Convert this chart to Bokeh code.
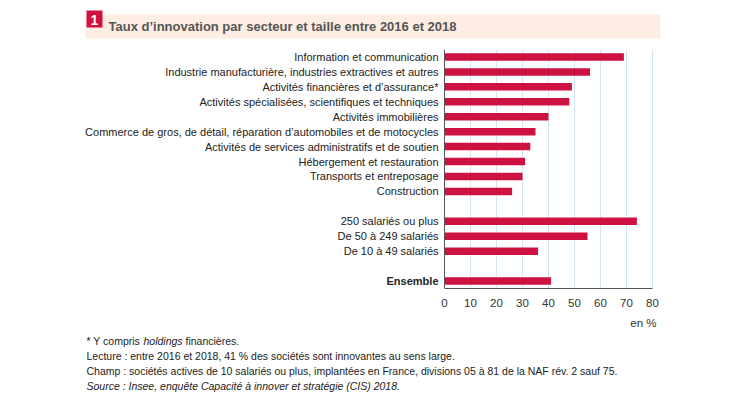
from bokeh.plotting import figure
from bokeh.layouts import column
from bokeh.models import FactorRange, Range1d, FixedTicker, ColumnDataSource, Span
from bokeh.core.properties import value
from bokeh.embed import file_html
from bokeh.resources import INLINE

# ---- data ----
sectors = [
    "Information et communication",
    "Industrie manufacturière, industries extractives et autres",
    "Activités financières et d’assurance*",
    "Activités spécialisées, scientifiques et techniques",
    "Activités immobilières",
    "Commerce de gros, de détail, réparation d’automobiles et de motocycles",
    "Activités de services administratifs et de soutien",
    "Hébergement et restauration",
    "Transports et entreposage",
    "Construction",
]
sector_values = [69, 56, 49, 48, 40, 35, 33, 31, 30, 26]

sizes = ["250 salariés ou plus", "De 50 à 249 salariés", "De 10 à 49 salariés"]
size_values = [74, 55, 36]

total_label = ["Ensemble"]
total_values = [41]

x_ticks = [0, 10, 20, 30, 40, 50, 60, 70, 80]
unit_label = "en %"

title_number = "1"
title_text = "Taux d’innovation par secteur et taille entre 2016 et 2018"
note_star = ["* Y compris", "holdings", "financières."]
notes = [
    "Lecture : entre 2016 et 2018, 41 % des sociétés sont innovantes au sens large.",
    "Champ : sociétés actives de 10 salariés ou plus, implantées en France, divisions 05 à 81 de la NAF rév. 2 sauf 75.",
]
source_note = "Source : Insee, enquête Capacité à innover et stratégie (CIS) 2018."

# ---- style / layout ----
FONT = value("Liberation Sans")
BAR = "#cd1241"
TEXT = "#222222"
W = 750
HEADER_H = 49
MAIN_H = 263
FRAME_H = 239
FOOTER_H = 411 - HEADER_H - MAIN_H
LABEL_PX = 444      # space left of the value axis (category labels)
PLOT_PX = 208       # width of the 0..80 value scale
RIGHT_PX = W - LABEL_PX - PLOT_PX


def blank(width, height, x_range, y_range):
    f = figure(width=width, height=height, output_backend="svg", toolbar_location=None,
               x_range=x_range, y_range=y_range,
               min_border=0, min_border_left=0, min_border_right=0,
               min_border_top=0, min_border_bottom=0)
    f.axis.visible = False
    f.grid.visible = False
    f.outline_line_color = None
    f.background_fill_color = "white"
    f.border_fill_color = "white"
    return f


# ---- header: pixel-like coordinates (y measured from top) ----
head = blank(W, HEADER_H, Range1d(0, W), Range1d(HEADER_H, 0))
head.quad(left=[85], right=[660], top=[14], bottom=[38], fill_color="#fdede2", line_color=None)
head.quad(left=[86], right=[102], top=[10], bottom=[27], fill_color="#d0103f", line_color=None)
head.text(x=[94], y=[19], text=[title_number], text_align="center", text_baseline="middle",
          text_font=FONT, text_font_size="14px", text_font_style="bold", text_color="white")
head.text(x=[108], y=[26], text=[title_text], text_align="left", text_baseline="middle",
          text_font=FONT, text_font_size="13px", text_font_style="bold", text_color="#555555")

# ---- main chart ----
factors_top_down = sectors + [" "] + sizes + ["  "] + total_label
factors = list(reversed(factors_top_down))

cats = sectors + sizes + total_label
vals = sector_values + size_values + total_values
styles = ["normal"] * (len(sectors) + len(sizes)) + ["bold"] * len(total_label)
src = ColumnDataSource(dict(y=cats, v=vals, style=styles, zero=[0] * len(cats)))

x_max = x_ticks[-1]
px_per_unit = PLOT_PX / x_max
x_start = -LABEL_PX / px_per_unit
x_end = x_max + RIGHT_PX / px_per_unit
p = figure(width=W, height=MAIN_H, output_backend="svg", toolbar_location=None,
           y_range=FactorRange(*factors, range_padding=0),
           x_range=Range1d(x_start, x_end),
           min_border_left=0, min_border_right=0,
           min_border_top=0, min_border_bottom=MAIN_H - FRAME_H)
p.outline_line_color = None
p.background_fill_color = "white"
p.border_fill_color = "white"
p.yaxis.visible = False

p.hbar(y="y", right="v", left=0, height=0.5, source=src,
       fill_color=BAR, line_color=None)

p.text(x="zero", y="y", text="y", source=src, x_offset=-6,
       text_align="right", text_baseline="middle",
       text_font=FONT, text_font_size="11px", text_font_style="style",
       text_color=TEXT)

p.ygrid.grid_line_color = None
p.xgrid.ticker = FixedTicker(ticks=x_ticks[1:])
p.xgrid.grid_line_color = "#d3e4f3"

p.add_layout(Span(location=0, dimension="height", line_color="#555555", line_width=1))

p.xaxis.ticker = FixedTicker(ticks=x_ticks)
p.xaxis.bounds = (0, x_max)
p.xaxis.axis_line_color = "#555555"
p.xaxis.major_tick_line_color = None
p.xaxis.minor_tick_line_color = None
p.xaxis.major_label_text_font = "Liberation Sans"
p.xaxis.major_label_text_font_size = "11.5px"
p.xaxis.major_label_text_color = "#333333"
p.xaxis.major_label_standoff = 4

# ---- footer: pixel-like coordinates (y measured from canvas top) ----
y0 = HEADER_H + MAIN_H
foot = blank(W, FOOTER_H, Range1d(0, W), Range1d(411, y0))
foot.text(x=[656], y=[322], text=[unit_label], text_align="right", text_baseline="middle",
          text_font=FONT, text_font_size="11.5px", text_color="#333333")

NOTE = "10.5px"
foot.text(x=[86], y=[340], text=[note_star[0]], text_align="left", text_baseline="middle",
          text_font=FONT, text_font_size=NOTE, text_color=TEXT)
foot.text(x=[143], y=[340], text=[note_star[1]], text_align="left", text_baseline="middle",
          text_font=FONT, text_font_size=NOTE, text_font_style="italic", text_color=TEXT)
foot.text(x=[185], y=[340], text=[note_star[2]], text_align="left", text_baseline="middle",
          text_font=FONT, text_font_size=NOTE, text_color=TEXT)
foot.text(x=[86, 86], y=[355, 370], text=notes, text_align="left", text_baseline="middle",
          text_font=FONT, text_font_size=NOTE, text_color=TEXT)
foot.text(x=[86], y=[385], text=[source_note], text_align="left", text_baseline="middle",
          text_font=FONT, text_font_size=NOTE, text_font_style="italic", text_color=TEXT)

layout = column(head, p, foot, spacing=0)
open("out.html", "w").write(file_html(layout, INLINE))
